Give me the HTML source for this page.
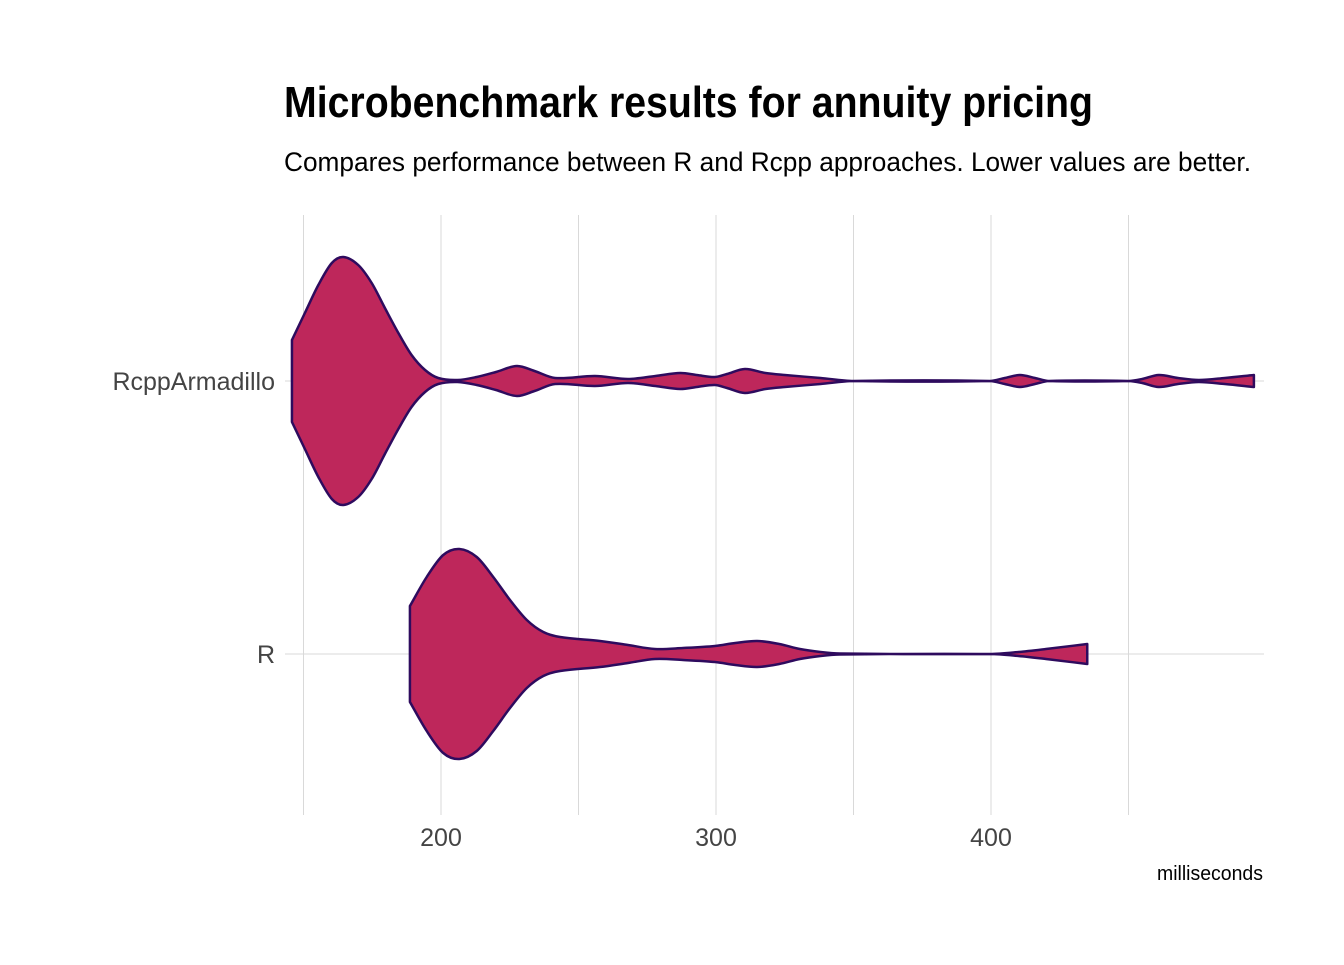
<!DOCTYPE html>
<html><head><meta charset="utf-8"><style>
body{margin:0;background:#fff}
svg text{font-family:"Liberation Sans Narrow","Liberation Sans",sans-serif}
</style></head><body>
<svg width="1344" height="960">
<text x="284" y="117" font-size="44" font-weight="bold" fill="#000" textLength="809" lengthAdjust="spacingAndGlyphs">Microbenchmark results for annuity pricing</text>
<text x="284" y="171" font-size="27" fill="#000" textLength="967" lengthAdjust="spacingAndGlyphs">Compares performance between R and Rcpp approaches. Lower values are better.</text>
<g id="grid"></g>
<g id="violins"></g>
<g id="labels"></g>
<text x="1263" y="880" font-size="20" text-anchor="end" fill="#000" textLength="106" lengthAdjust="spacingAndGlyphs">milliseconds</text>
</svg>
<script>
const categories=["RcppArmadillo","R"];
const xTicks=[200,300,400];
const xMinor=[150,250,350,450];
const armaValues=[145.8,150.5,155.4,160.3,164.5,169.9,174.8,179.6,184.5,189.3,194.2,199.0,206,213,220,227.6,234,241.5,256,268,278,287,293,299.6,304,310.5,318,325,338,350,399.6,405,410.5,416,421,450,455,461,468,475.6,485,495.6];
const armaDens=[41,68,96,118,124,116,98,73,48,26,11,3,1,4,9,15,10,3,5,2,5,8,6,4,7,12,8,6,3,0,0,3,6,3,0,0,2,6,3,1,3,6];
const rValues=[188.7,194.8,200.8,206.7,213,219,225.1,231.2,237.2,243.3,257.8,268,277.8,288,299.6,307,315,323,330.5,338,345,399.6,410,420,435];
const rDens=[48,77,99,105,97,77,54,34,22,17,13,9,5,6,8,11,13,10,5,2,0.5,0,2,5,10];
const series=[[armaValues,armaDens],[rValues,rDens]];
const ns="http://www.w3.org/2000/svg";
const x=v=>441+(v-200)*2.75;
const yCat=i=>[381,654][i];
const wScale=1;
function mk(t,a,p){const e=document.createElementNS(ns,t);for(const k in a)e.setAttribute(k,a[k]);p.appendChild(e);return e;}
const grid=document.getElementById('grid');
xTicks.concat(xMinor).forEach(v=>{const l=mk('line',{x1:x(v),x2:x(v),y1:215,y2:815,stroke:'#d9d9d9','stroke-width':1},grid);

});
categories.forEach((c,i)=>{const l=mk('line',{x1:285,x2:1264,y1:yCat(i),y2:yCat(i),stroke:'#d9d9d9','stroke-width':1},grid);

});
const lab=document.getElementById('labels');
categories.forEach((c,i)=>{const t=mk('text',{x:275,y:yCat(i)+9,'font-size':25,'text-anchor':'end',fill:'#444'},lab);t.textContent=c;

});
xTicks.forEach(v=>{const t=mk('text',{x:x(v),y:846,'font-size':25,'text-anchor':'middle',fill:'#444'},lab);t.textContent=v;

});
function spline(pts){let d='';for(let i=0;i<pts.length-1;i++){const p0=pts[i-1]||pts[i],p1=pts[i],p2=pts[i+1],p3=pts[i+2]||p2;
const h=p2[0]-p1[0];
const s1=(p2[1]-p0[1])/((p2[0]-p0[0])||1),s2=(p3[1]-p1[1])/((p3[0]-p1[0])||1);
const c1=[p1[0]+h/3,p1[1]+s1*h/3],c2=[p2[0]-h/3,p2[1]-s2*h/3];
d+=` C${c1[0]},${c1[1]} ${c2[0]},${c2[1]} ${p2[0]},${p2[1]}`;}return d;}
const vg=document.getElementById('violins');
series.forEach(([vals,dens],i)=>{const cy=yCat(i);
const top=vals.map((v,k)=>[x(v),cy-dens[k]*wScale]);
const bot=vals.map((v,k)=>[x(v),cy+dens[k]*wScale]).reverse();
let d=`M${top[0][0]},${top[0][1]}`+spline(top)+` L${bot[0][0]},${bot[0][1]}`+spline(bot)+'Z';
const p=mk('path',{d:d,fill:'#BE275B',stroke:'#2E0B5E','stroke-width':2.5,'stroke-linejoin':'round'},vg);

});
</script>
</body></html>
